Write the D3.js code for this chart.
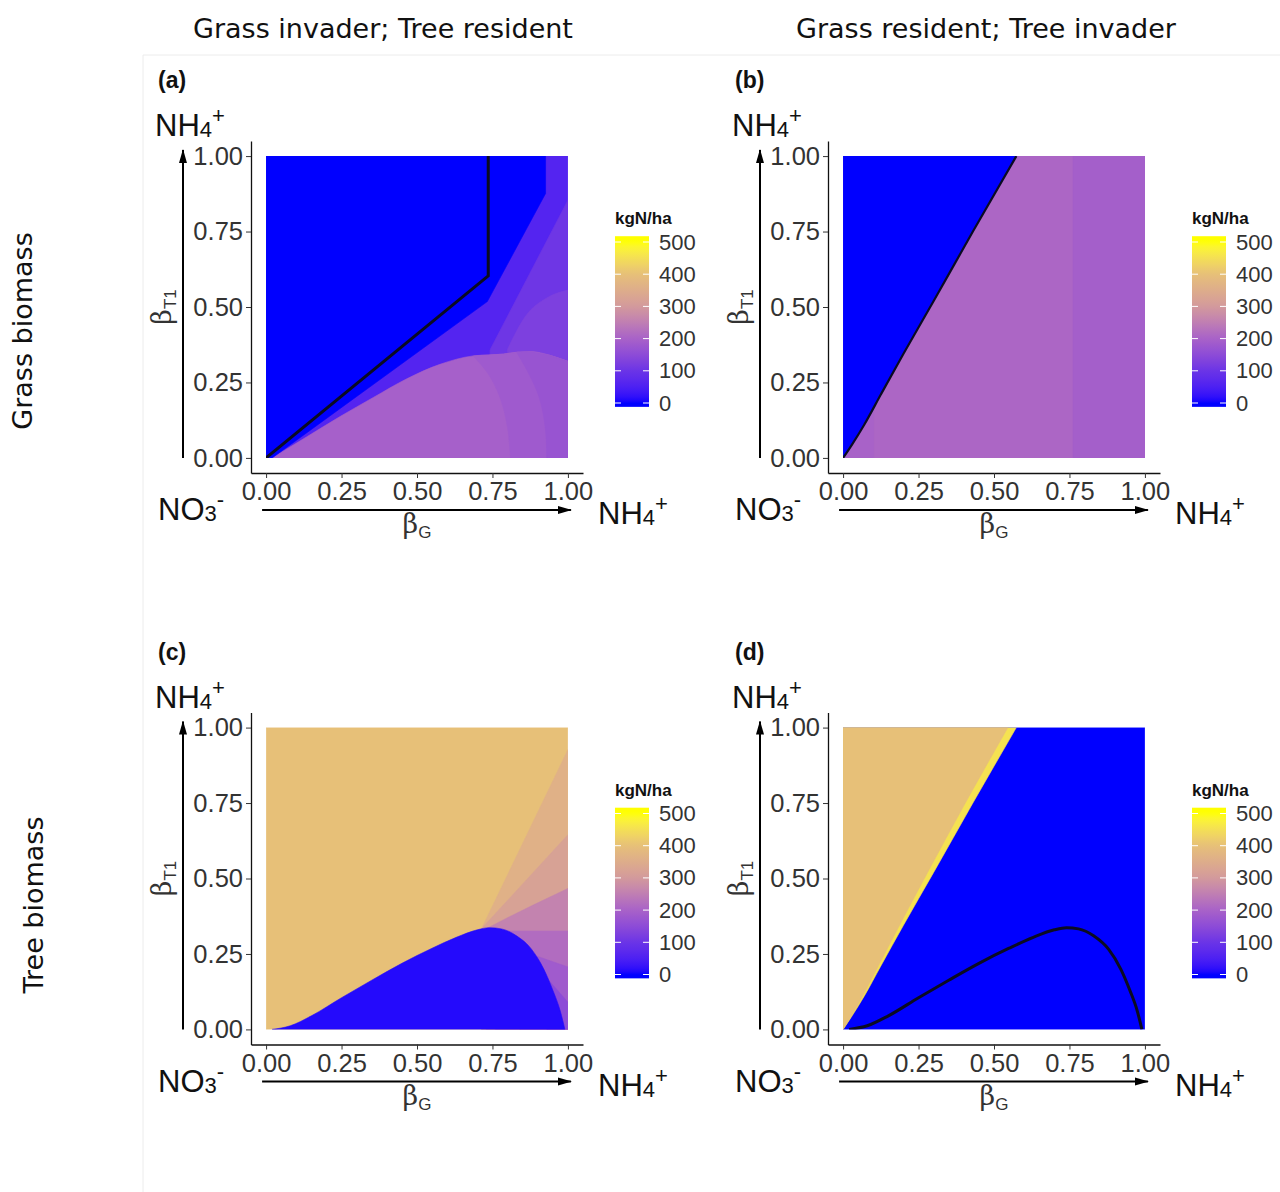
<!DOCTYPE html>
<html><head><meta charset="utf-8">
<script src="https://cdn.jsdelivr.net/npm/d3@7"></script>
<style>body{margin:0;background:#fff}</style>
</head><body><svg id="chart" width="1280" height="1192"></svg>
<script>
// ---------------- data ----------------
const columnTitles = ["Grass invader; Tree resident", "Grass resident; Tree invader"];
const rowTitles = ["Grass biomass", "Tree biomass"];
const panelTags = ["(a)", "(b)", "(c)", "(d)"];
const axisTicks = [0, 0.25, 0.5, 0.75, 1];
const legendBreaks = [0, 100, 200, 300, 400, 500];
const colourStops = [0, 100, 200, 300, 400, 500];
const colourHexes = ["#0000FF", "#6A34E6", "#A862C8", "#D39A9C", "#E7C078", "#FFFF00"];

// boundaries, in (betaG, betaT1)
const fullSquare = [[0,0],[1,0],[1,1],[0,1]];
const invasionEdge = [[0,0],[0.03,0.045],[0.07,0.11],[0.125,0.21],[0.2,0.345],[0.3,0.52],[0.43,0.75],[0.574,1]];
const treeEdgeD = [[0,0],[0.028,0.045],[0.065,0.11],[0.117,0.21],[0.187,0.345],[0.28,0.52],[0.405,0.75],[0.546,1]];
const treeHump = [[0.02,0],[0.08,0.012],[0.15,0.045],[0.25,0.105],[0.35,0.163],[0.45,0.219],[0.55,0.269],[0.63,0.305],[0.70,0.33],[0.74,0.337],[0.78,0.333],[0.83,0.31],[0.88,0.265],[0.92,0.2],[0.95,0.13],[0.975,0.06],[0.99,0]];
const grassKink = [[0,0],[0.736,0.603],[0.736,1]];
const grassDomeTop = [[0.02,0],[0.135,0.07],[0.245,0.137],[0.355,0.2],[0.466,0.262],[0.576,0.31],[0.686,0.338],[0.786,0.344],[0.83,0.35],[0.88,0.352],[0.94,0.34],[1,0.32]];

// regions: value (kgN/ha), curved edge, straight closing points
const regionsA = [
  {v: 60,  edge: [], close: fullSquare},
  {v: 105, edge: [], close: [[0.742,0.358],[1,0.854],[1,0],[0.742,0]]},
  {v: 125, edge: [[0.80,0.36],[0.86,0.47],[0.93,0.53],[1,0.556]], close: [[1,0],[0.80,0]]},
  {v: 195, edge: grassDomeTop, close: [[1,0]]},
  {v: 182, edge: [[0.81,0],[0.80,0.1],[0.775,0.2],[0.735,0.28],[0.686,0.338]], close: [[0.786,0.344],[0.83,0.35],[0.88,0.352],[0.94,0.34],[1,0.32],[1,0]]},
  {v: 170, edge: [[0.93,0],[0.925,0.1],[0.905,0.2],[0.87,0.28],[0.83,0.35]], close: [[0.88,0.352],[0.94,0.34],[1,0.32],[1,0]]},
  {v: 0,   edge: [], close: [[0,0],[0,1],[0.926,1],[0.926,0.876],[0.733,0.518],[0.02,0]]}
];
const regionsB = [
  {v: 207, edge: [], close: fullSquare},
  {v: 193, edge: [], close: [[0.762,0],[1,0],[1,1],[0.762,1]]},
  {v: 200, edge: [], close: [[0,0],[0.101,0],[0.101,0.21],[0,0.21]]},
  {v: 0,   edge: invasionEdge, close: [[0,1]]}
];
const regionsC = [
  {v: 400, edge: [], close: fullSquare},
  {v: 360, edge: [], close: [[0.714,0.334],[1,0.927],[1,0],[0.714,0]]},
  {v: 320, edge: [], close: [[0.714,0.334],[1,0.645],[1,0],[0.714,0]]},
  {v: 258, edge: [[0.73,0.334],[0.80,0.37],[0.885,0.412],[1,0.467]], close: [[1,0],[0.73,0]]},
  {v: 218, edge: [], close: [[0.76,0.326],[1,0.326],[1,0],[0.76,0]]},
  {v: 185, edge: [], close: [[0.841,0.262],[1,0.207],[1,0],[0.841,0]]},
  {v: 150, edge: [], close: [[0.93,0.17],[1,0.09],[1,0],[0.93,0]]},
  {v: 12,  edge: treeHump, close: []}
];
const regionsD = [
  {v: 0,   edge: [], close: fullSquare},
  {v: 455, edge: invasionEdge, close: [[0,1]]},
  {v: 400, edge: treeEdgeD, close: [[0,1]]}
];
const linesA = [grassKink];
const linesB = [invasionEdge];
const linesC = [];
const linesD = [treeHump];

// ---------------- drawing ----------------
const svg = d3.select("#chart");
const SANS = "'Liberation Sans', Arial, Helvetica, sans-serif";
const colour = d3.scaleLinear().domain(colourStops).range(colourHexes)
  .interpolate(d3.interpolateLab).clamp(true);

const defs = svg.append("defs");
defs.append("marker").attr("id","arrow").attr("viewBox","0 0 14 10")
  .attr("refX",13).attr("refY",5).attr("markerWidth",14).attr("markerHeight",10)
  .attr("markerUnits","userSpaceOnUse").attr("orient","auto")
  .append("path").attr("d","M0,1 L14,5 L0,9 Z").attr("fill","#000");

const grad = defs.append("linearGradient").attr("id","legendGrad")
  .attr("x1",0).attr("y1",1).attr("x2",0).attr("y2",0);
const gradLo = -12, gradHi = 518;
d3.range(0, 51).forEach(i => {
  const val = gradLo + (gradHi - gradLo) * i / 50;
  grad.append("stop").attr("offset", (i/50*100)+"%").attr("stop-color", colour(val));
});

// faint outer frame
svg.append("line").attr("x1",143).attr("x2",143).attr("y1",55).attr("y2",1192).attr("stroke","#ececec");
svg.append("line").attr("x1",143).attr("x2",1280).attr("y1",55).attr("y2",55).attr("stroke","#ececec");

// column titles & row titles
const colCentres = [383, 986];
columnTitles.forEach((t,i) => svg.append("text").attr("x",colCentres[i]).attr("y",38)
  .attr("text-anchor","middle").attr("font-family","'DejaVu Sans', sans-serif")
  .attr("font-size",27).attr("fill","#111").text(t));
const rowLabelPos = [[22,331],[33,905]];
rowTitles.forEach((t,i) => svg.append("text")
  .attr("transform",`translate(${rowLabelPos[i][0]},${rowLabelPos[i][1]}) rotate(-90)`)
  .attr("text-anchor","middle").attr("dominant-baseline","central")
  .attr("font-family","'DejaVu Sans', sans-serif").attr("font-size",27).attr("fill","#111").text(t));

const panels = [
  {tag: panelTags[0], col:0, row:0, regions: regionsA, lines: linesA, lw: 3},
  {tag: panelTags[1], col:1, row:0, regions: regionsB, lines: linesB, lw: 2.2},
  {tag: panelTags[2], col:0, row:1, regions: regionsC, lines: linesC, lw: 3},
  {tag: panelTags[3], col:1, row:1, regions: regionsD, lines: linesD, lw: 3}
];
const colX0 = [251, 828];
const rowY0 = [141, 712.5];
const SIZE = 332;

function chemLabel(g, x, y, base, sub, sup) {
  const t = g.append("text").attr("x",x).attr("y",y).attr("font-family",SANS).attr("fill","#111");
  t.append("tspan").attr("font-size",31).text(base);
  t.append("tspan").attr("font-size",22).attr("dy",1).text(sub);
  t.append("tspan").attr("font-size",22).attr("dy",-14).text(sup);
}

function isAscending(pts) {
  for (let i = 1; i < pts.length; i++) if (pts[i][0] < pts[i-1][0]) return false;
  return true;
}

panels.forEach((p, idx) => {
  const X0 = colX0[p.col], Y0 = rowY0[p.row];
  const x = d3.scaleLinear().domain([-0.05,1.05]).range([X0, X0+SIZE]);
  const y = d3.scaleLinear().domain([-0.05,1.05]).range([Y0+SIZE, Y0]);
  const g = svg.append("g");
  const clipId = "clip"+idx;
  defs.append("clipPath").attr("id",clipId).append("rect")
    .attr("x",x(0)).attr("y",y(1)).attr("width",x(1)-x(0)).attr("height",y(0)-y(1));
  const plot = g.append("g").attr("clip-path",`url(#${clipId})`);

  const lineFor = pts => d3.line().x(d=>x(d[0])).y(d=>y(d[1]))
    .curve(isAscending(pts) ? d3.curveMonotoneX : d3.curveCatmullRom.alpha(0.5));
  p.regions.forEach(r => {
    let d = "";
    if (r.edge.length) d = lineFor(r.edge)(r.edge);
    r.close.forEach(pt => {
      d += (d === "" ? "M" : "L") + x(pt[0]) + "," + y(pt[1]);
    });
    d += "Z";
    plot.append("path").attr("d", d).attr("fill", colour(r.v))
      .attr("stroke", colour(r.v)).attr("stroke-width", 0.6);
  });
  p.lines.forEach(l => {
    const gen = l === grassKink ? d3.line().x(d=>x(d[0])).y(d=>y(d[1])) : lineFor(l);
    plot.append("path").attr("d", gen(l)).attr("fill","none")
      .attr("stroke","#0b0b22").attr("stroke-width",p.lw).attr("stroke-linejoin","round");
  });

  // axes
  const fmt = d3.format(".2f");
  const ax = g.append("g").attr("transform",`translate(0,${Y0+SIZE})`)
    .call(d3.axisBottom(x).tickValues(axisTicks).tickFormat(fmt).tickSize(5).tickPadding(4).tickSizeOuter(0));
  const ay = g.append("g").attr("transform",`translate(${X0},0)`)
    .call(d3.axisLeft(y).tickValues(axisTicks).tickFormat(fmt).tickSize(5).tickPadding(3).tickSizeOuter(0));
  [ax, ay].forEach(a => {
    a.selectAll("text").attr("font-family",SANS).attr("font-size",25.5).attr("fill","#333");
    a.selectAll("line").attr("stroke","#333");
    a.select(".domain").attr("stroke","#111").attr("stroke-width",1.3);
  });

  // arrows
  g.append("line").attr("x1",X0-68).attr("x2",X0-68).attr("y1",y(0)).attr("y2",y(1)-6)
    .attr("stroke","#000").attr("stroke-width",2).attr("marker-end","url(#arrow)");
  g.append("line").attr("x1",x(0)-4).attr("x2",x(1)+3).attr("y1",Y0+369).attr("y2",Y0+369)
    .attr("stroke","#000").attr("stroke-width",2).attr("marker-end","url(#arrow)");

  // axis titles
  const ty = g.append("text").attr("transform",`translate(${X0-80},${Y0+166}) rotate(-90)`)
    .attr("text-anchor","middle").attr("fill","#333");
  ty.append("tspan").attr("font-family","'DejaVu Serif', serif").attr("font-size",27).text("β");
  ty.append("tspan").attr("font-family",SANS).attr("font-size",17).attr("dy",5).text("T1");
  const tx = g.append("text").attr("x",X0+166).attr("y",Y0+392).attr("text-anchor","middle").attr("fill","#333");
  tx.append("tspan").attr("font-family","'DejaVu Serif', serif").attr("font-size",27).text("β");
  tx.append("tspan").attr("font-family",SANS).attr("font-size",17).attr("dy",5).text("G");

  chemLabel(g, X0-96, Y0-5, "NH", "4", "+");
  chemLabel(g, X0-93, Y0+379, "NO", "3", "-");
  chemLabel(g, X0+347, Y0+383, "NH", "4", "+");

  g.append("text").attr("x",X0-93).attr("y",Y0-53).attr("font-family",SANS)
    .attr("font-weight","bold").attr("font-size",23).attr("fill","#111").text(p.tag);

  // legend
  const lx = X0 + 364;
  const ly = d3.scaleLinear().domain([0,500]).range([Y0+262, Y0+101]);
  g.append("text").attr("x",lx).attr("y",Y0+83).attr("font-family",SANS).attr("font-weight","bold")
    .attr("font-size",17).attr("fill","#111").text("kgN/ha");
  g.append("rect").attr("x",lx).attr("width",34).attr("y",ly(gradHi)).attr("height",ly(gradLo)-ly(gradHi))
    .attr("fill","url(#legendGrad)");
  legendBreaks.forEach(b => {
    g.append("line").attr("x1",lx).attr("x2",lx+6).attr("y1",ly(b)).attr("y2",ly(b)).attr("stroke","#fff").attr("stroke-width",1);
    g.append("line").attr("x1",lx+28).attr("x2",lx+34).attr("y1",ly(b)).attr("y2",ly(b)).attr("stroke","#fff").attr("stroke-width",1);
    g.append("text").attr("x",lx+44).attr("y",ly(b)).attr("dominant-baseline","central")
      .attr("font-family",SANS).attr("font-size",22).attr("fill","#333").text(b);
  });
});
</script></body></html>
